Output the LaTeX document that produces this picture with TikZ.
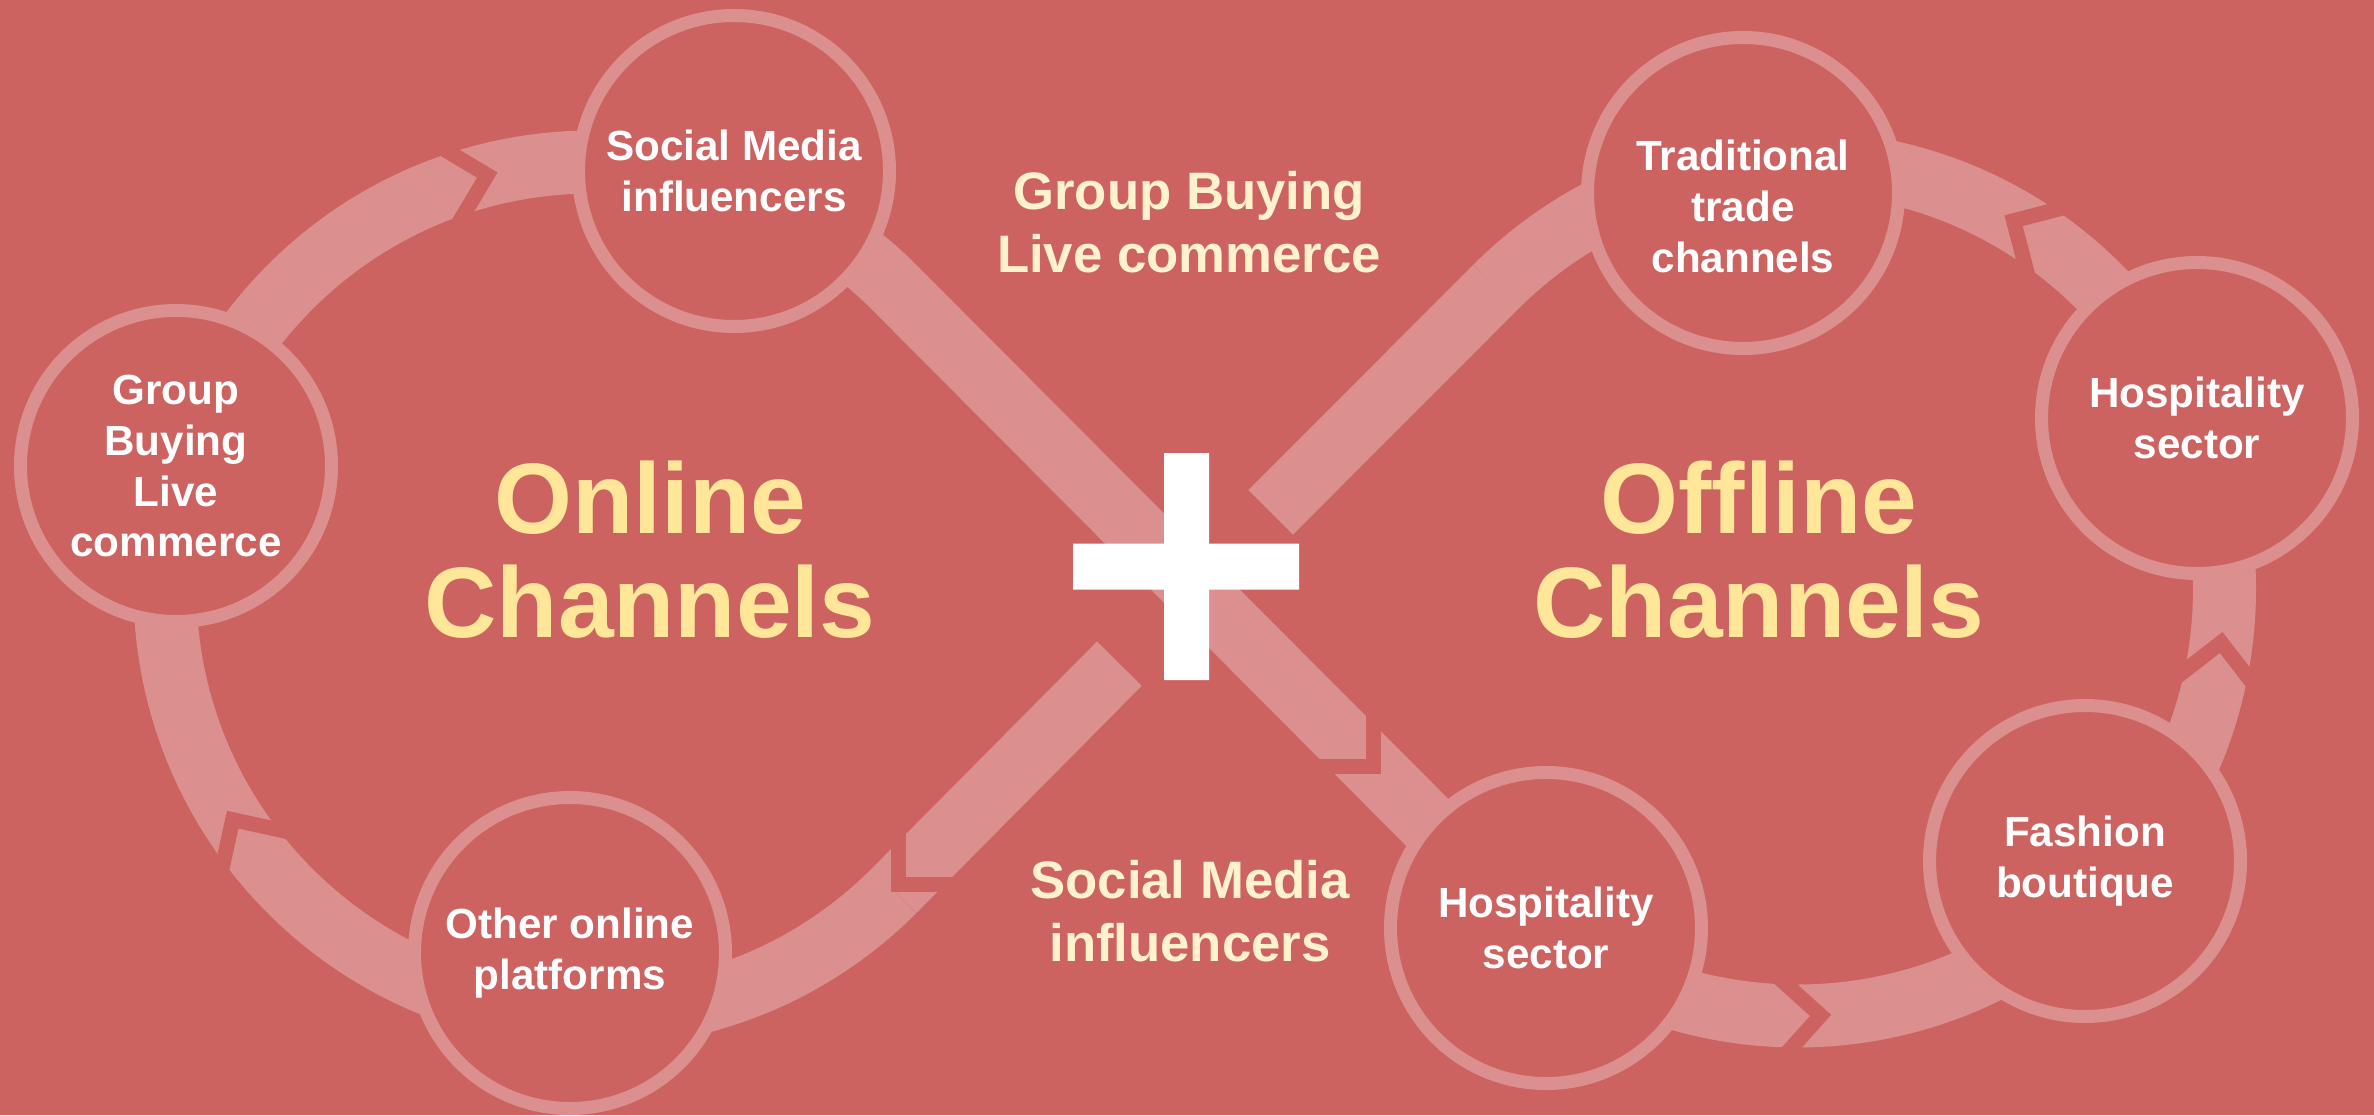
\documentclass[tikz,border=0pt]{standalone}
\usepackage{fontspec}
\setmainfont{Liberation Sans}
\usetikzlibrary{calc}

\definecolor{bgred}{RGB}{204,99,97}
\definecolor{ribbonpink}{RGB}{219,144,143}
\definecolor{titleyellow}{RGB}{255,230,153}
\definecolor{captioncream}{RGB}{255,242,204}

\begin{document}
\begin{tikzpicture}[x=0.1mm,y=0.1mm,
  hub/.style={circle,draw=ribbonpink,line width=1.3mm,fill=bgred,
    minimum size=31.1mm,inner sep=0pt,text=white,align=center,
    font=\fontsize{12}{14.5}\selectfont\bfseries},
  title/.style={text=titleyellow,align=center,
    font=\fontsize{28.5}{29.6}\selectfont\bfseries},
  caption/.style={text=captioncream,align=center,
    font=\fontsize{15}{17.9}\selectfont\bfseries},
  ribbon/.style={draw=ribbonpink,line width=6.3mm},
  notch/.style={draw=bgred,line width=1.5mm}]
  \useasboundingbox (0,0) rectangle (2374,1115);
  \fill[bgred] (0,0) rectangle (2374,1115);

  \coordinate (onl) at (592,526);
  \coordinate (offl) at (1797.5,526);
  \coordinate (cross) at (1195,527);

  % both loops and the diagonal that goes over
  \draw[ribbon] (onl) ++(-45:427) arc[start angle=-45,end angle=-315,radius=427]
    -- ($(offl)+(225:427)$) arc[start angle=225,end angle=495,radius=427];
  % the diagonal that goes under, broken at the crossing
  \draw[ribbon] (offl) ++(135:427) -- ($(cross)+(45:107)$);
  \draw[ribbon] ($(cross)+(225:107)$) -- ($(onl)+(-45:427)$);

  % arrow gaps: centre / position angle / distance / pointing angle
  \foreach \c/\a/\r/\p in {onl/104.2/427/14.2, onl/212.7/427/122.7,
      offl/273.1/427/3.1, offl/352.8/427/82.8, offl/59.6/427/149.6,
      cross/-45/252/-45, cross/225/419/225}
    \draw[notch,shift={($(\c)+(\a:\r)$)},rotate=\p] (-40,40) -- (0,0) -- (-40,-40);

  \node[hub] (gb) at (176,649) {Group\\Buying\\Live\\commerce};
  \node[hub] (sm) at (734,944) {Social Media\\influencers};
  \node[hub] (oo) at (570,162) {Other online\\platforms};
  \node[hub,text height=45.5pt] (tt) at (1743,922) {Traditional\\trade\\channels};
  \node[hub] (hs1) at (2197,697) {Hospitality\\sector};
  \node[hub] (fb) at (2085,254) {Fashion\\boutique};
  \node[hub] (hs2) at (1546,187) {Hospitality\\sector};

  \fill[white] (1164,435) rectangle (1209,662) (1073,525.5) rectangle (1299,571.5);

  \node[title] (online) at (650,565) {Online\\Channels};
  \node[title] (offline) at (1759,565) {Offline\\Channels};
  \node[caption] (topcap) at (1189,893) {Group Buying\\Live commerce};
  \node[caption] (botcap) at (1190,204) {Social Media\\influencers};
\end{tikzpicture}
\end{document}
